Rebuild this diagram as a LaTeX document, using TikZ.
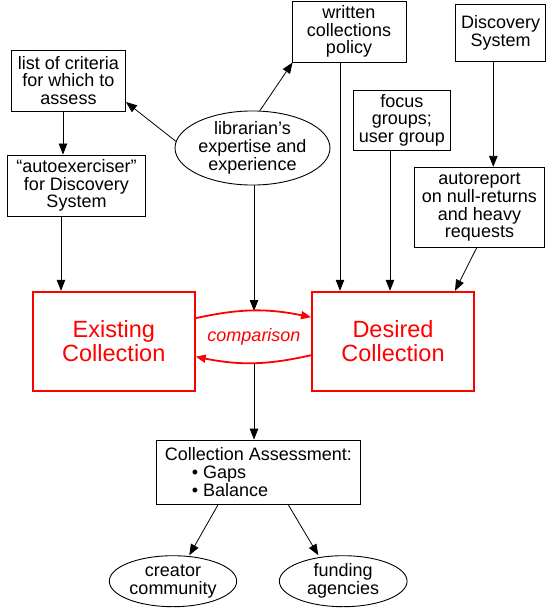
\documentclass[tikz,border=0pt]{standalone}
\usepackage{fontspec}
\setmainfont{Liberation Sans}
\usetikzlibrary{arrows.meta,shapes.geometric}
\begin{document}
\begin{tikzpicture}[x=1pt,y=-1pt,
  txt/.style={inner sep=0pt,align=center,font=\fontsize{18}{17.8}\selectfont},
  box/.style={txt,draw,line width=0.9pt},
  oval/.style={txt,ellipse,draw,line width=0.9pt},
  bigbox/.style={draw=red,line width=1.8pt,text=red,inner sep=0pt,align=center,
    font=\fontsize{23.5}{24}\selectfont,minimum width=162pt,minimum height=99pt},
  arr/.style={-{Triangle[length=11pt,width=8.5pt]},line width=0.8pt},
  redarr/.style={draw=red,line width=1.8pt,-{Triangle[length=10pt,width=8pt]}}]
\useasboundingbox (0,0) rectangle (557,610);

\node[box,minimum width=114pt,minimum height=61pt] (crit) at (68.5,80.5) {list of criteria\\for which to\\assess};
\node[box,minimum width=138pt,minimum height=61pt] (auto) at (76.5,185.5) {“autoexerciser”\\for Discovery\\System};
\node[oval,minimum width=155pt,minimum height=64pt] (lib) at (252.5,148) {librarian’s\\expertise and\\experience};
\node[box,minimum width=114pt,minimum height=61pt] (pol) at (349,31.5) {written\\collections\\policy};
\node[box,minimum width=90pt,minimum height=57pt] (disc) at (500.7,32.8) {Discovery\\System};
\node[box,minimum width=97pt,minimum height=60.7pt] (focus) at (401.8,120.3) {focus\\groups;\\user group};
\node[box,minimum width=130.4pt,minimum height=80pt] (autorep) at (479.5,207.3) {autoreport\\on null-returns\\and heavy\\requests};
\node[bigbox] (ex) at (113.8,341.2) {Existing\\Collection};
\node[bigbox] (de) at (393,341.2) {Desired\\Collection};
\node[txt,text=red,font=\fontsize{18}{18}\selectfont\itshape] (comp) at (254,337) {comparison};
\node[box,align=left,minimum width=204.7pt,minimum height=64.3pt] (ca) at (258.3,472.2)
  {Collection Assessment:\\\hspace*{27pt}• Gaps\\\hspace*{27pt}• Balance};
\node[oval,minimum width=127.4pt,minimum height=51pt] (cre) at (173,581.2) {creator\\community};
\node[oval,minimum width=127.7pt,minimum height=51pt] (fund) at (343.2,581.2) {funding\\agencies};

\coordinate (ctop) at (254,311);
\coordinate (cbot) at (254,364);

\draw[arr] ([xshift=-5.5pt]crit.south) -- ([xshift=-13.5pt]auto.north);
\draw[arr] ([xshift=-15.5pt]auto.south) -- ([xshift=-52.8pt]ex.north);
\draw[arr] ([xshift=-9pt]pol.south) -- ([xshift=-53pt]de.north);
\draw[arr] ([xshift=-11.8pt]focus.south) -- ([xshift=-3pt]de.north);
\draw[arr] ([xshift=-7.4pt]disc.south) -- ([xshift=13.8pt]autorep.north);
\draw[arr] ([xshift=-2.8pt]autorep.south) -- ([xshift=62pt]de.north);
\draw[arr] (lib.175) -- ([yshift=-21.5pt]crit.east);
\draw[arr] ([xshift=7.5pt]lib.north) -- ([xshift=1pt]pol.south west);
\draw[arr] (ctop |- lib.south) -- (ctop);
\draw[arr] (cbot) -- (cbot |- ca.north);
\draw[arr] ([xshift=-40.3pt]ca.south) -- ([xshift=16.3pt]cre.north);
\draw[arr] ([xshift=30pt]ca.south) -- ([xshift=-24.9pt]fund.north);

\draw[redarr] ([yshift=23pt]ex.east) to[bend left=12] ([yshift=24pt]de.west);
\draw[redarr] ([yshift=-14pt]de.west) to[bend left=12] ([yshift=-15.5pt]ex.east);
\end{tikzpicture}
\end{document}
